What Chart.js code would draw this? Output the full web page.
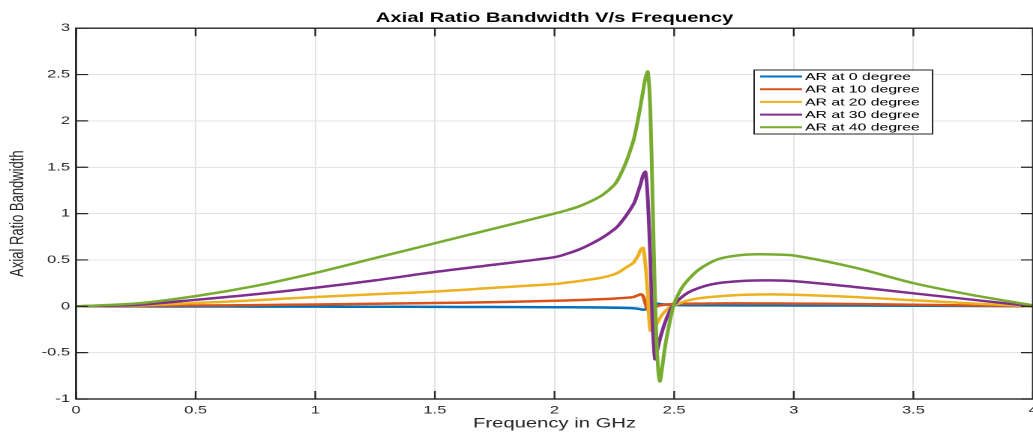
<!DOCTYPE html>
<html><head><meta charset="utf-8">
<script src="https://cdn.jsdelivr.net/npm/chart.js@4"></script>
<style>html,body{margin:0;padding:0;background:#fff;overflow:hidden}
#c{display:block}</style></head>
<body><canvas id="c" width="689" height="432" style="width:1033px;height:432px"></canvas>
<script>
// ---- data ----
const freq = [0, 0.25, 0.5, 0.75, 1.0, 1.25, 1.5, 1.75, 2.0, 2.05, 2.1, 2.15, 2.2, 2.25, 2.27, 2.3,
  2.33, 2.34, 2.35, 2.36, 2.37, 2.38, 2.39, 2.40, 2.41, 2.42, 2.43, 2.44, 2.45, 2.46, 2.47, 2.48, 2.49, 2.50,
  2.53, 2.56, 2.6, 2.65, 2.7, 2.8, 2.9, 3.0, 3.25, 3.5, 3.75, 4.0];

const ar0 = [0, -0.001, -0.002, -0.003, -0.004, -0.005, -0.006, -0.008, -0.01, -0.0105, -0.011, -0.012, -0.013, -0.015, -0.016, -0.018,
  -0.021, -0.024, -0.027, -0.032, -0.037, -0.03, 0.005, 0.03, 0.035, 0.032, 0.028, 0.025, 0.022, 0.02, 0.018, 0.016, 0.015, 0.014,
  0.013, 0.012, 0.012, 0.011, 0.011, 0.01, 0.01, 0.009, 0.008, 0.006, 0.003, 0.0];

const ar10 = [0, 0.003, 0.008, 0.013, 0.02, 0.028, 0.036, 0.045, 0.06, 0.063, 0.067, 0.072, 0.077, 0.083, 0.087, 0.092,
  0.10, 0.11, 0.12, 0.13, 0.11, 0.03, -0.04, -0.05, -0.03, -0.01, 0.0, 0.01, 0.015, 0.018, 0.02, 0.022, 0.024, 0.025,
  0.027, 0.028, 0.029, 0.03, 0.031, 0.031, 0.03, 0.029, 0.025, 0.017, 0.009, 0.0];

const ar20 = [0, 0.01, 0.035, 0.065, 0.10, 0.13, 0.16, 0.20, 0.24, 0.255, 0.27, 0.29, 0.31, 0.345, 0.37, 0.42,
  0.47, 0.51, 0.55, 0.61, 0.63, 0.45, 0.12, -0.26, -0.26, -0.22, -0.18, -0.13, -0.09, -0.06, -0.035, -0.015, 0.0, 0.01,
  0.04, 0.065, 0.085, 0.10, 0.11, 0.124, 0.128, 0.124, 0.10, 0.065, 0.03, 0.0];

const ar30 = [0, 0.015, 0.07, 0.13, 0.20, 0.28, 0.37, 0.45, 0.53, 0.565, 0.61, 0.67, 0.74, 0.83, 0.88, 0.98,
  1.10, 1.16, 1.24, 1.32, 1.41, 1.45, 1.15, 0.55, -0.18, -0.57, -0.47, -0.36, -0.27, -0.19, -0.12, -0.06, -0.01, 0.02,
  0.095, 0.15, 0.195, 0.233, 0.255, 0.276, 0.28, 0.272, 0.21, 0.14, 0.07, 0.0];

const ar40 = [0, 0.03, 0.11, 0.22, 0.36, 0.52, 0.68, 0.84, 1.00, 1.035, 1.075, 1.13, 1.20, 1.31, 1.39, 1.56,
  1.79, 1.90, 2.03, 2.17, 2.32, 2.46, 2.53, 2.15, 1.15, 0.10, -0.55, -0.81, -0.66, -0.47, -0.32, -0.19, -0.07, 0.03,
  0.19, 0.29, 0.39, 0.47, 0.52, 0.557, 0.56, 0.548, 0.42, 0.25, 0.12, 0.01];

const seriesLabels = ['AR at 0 degree', 'AR at 10 degree', 'AR at 20 degree', 'AR at 30 degree', 'AR at 40 degree'];
const seriesColors = ['#0072BD', '#D95319', '#EDB120', '#7E2F8E', '#77AC30'];
const xTicks = [0, 0.5, 1, 1.5, 2, 2.5, 3, 3.5, 4];
const yTicks = [-1, -0.5, 0, 0.5, 1, 1.5, 2, 2.5, 3];

// ---- chart ----
const FONT = '"Liberation Sans", Arial, Helvetica, sans-serif';
const TL = 8;

const frame = {
  id: 'frame',
  afterDatasetsDraw(chart) {
    const {ctx, chartArea: {left, right, top, bottom}, scales: {x, y}} = chart;
    ctx.save();
    ctx.strokeStyle = '#262626';
    ctx.lineWidth = 1.2;
    ctx.beginPath();
    xTicks.forEach(v => {
      const px = x.getPixelForValue(v);
      ctx.moveTo(px, bottom); ctx.lineTo(px, bottom - TL);
      ctx.moveTo(px, top); ctx.lineTo(px, top + TL);
    });
    yTicks.forEach(v => {
      const py = y.getPixelForValue(v);
      ctx.moveTo(left, py); ctx.lineTo(left + TL, py);
      ctx.moveTo(right, py); ctx.lineTo(right - TL, py);
    });
    ctx.stroke();
    ctx.lineWidth = 1.4;
    ctx.strokeRect(left, top, right - left, bottom - top);
    ctx.restore();
  }
};

const legendBox = {
  id: 'legendBox',
  afterDraw(chart) {
    const ctx = chart.ctx;
    const bx = 503, by = 70, bw = 119, bh = 64, rowH = 12.7;
    ctx.save();
    ctx.fillStyle = '#fff';
    ctx.fillRect(bx, by, bw, bh);
    ctx.strokeStyle = '#262626';
    ctx.lineWidth = 1;
    ctx.strokeRect(bx, by, bw, bh);
    ctx.font = '10.5px ' + FONT;
    ctx.textBaseline = 'middle';
    ctx.textAlign = 'left';
    chart.data.datasets.forEach((d, i) => {
      const cy = by + 6.5 + i * rowH;
      ctx.strokeStyle = d.borderColor;
      ctx.lineWidth = 2;
      ctx.beginPath();
      ctx.moveTo(bx + 4, cy); ctx.lineTo(bx + 32, cy);
      ctx.stroke();
      ctx.fillStyle = '#000';
      ctx.fillText(d.label, bx + 34, cy + 0.5);
    });
    ctx.restore();
  }
};

const series = [ar0, ar10, ar20, ar30, ar40];
const datasets = series.map((arr, i) => ({
  label: seriesLabels[i],
  data: freq.map((f, j) => ({x: f, y: arr[j]})),
  borderColor: seriesColors[i],
  backgroundColor: seriesColors[i],
  borderWidth: 2.5,
  pointRadius: 0,
  tension: 0.3,
  fill: false,
  order: series.length - 1 - i
}));

const fmt = v => String(v);

new Chart(document.getElementById('c'), {
  type: 'line',
  data: {datasets},
  plugins: [frame, legendBox],
  options: {
    responsive: false,
    animation: false,
    devicePixelRatio: 2,
    layout: {padding: 0},
    plugins: {
      legend: {display: false},
      tooltip: {enabled: false},
      title: {
        display: true,
        text: 'Axial Ratio Bandwidth V/s Frequency',
        fullSize: false,
        color: '#000',
        font: {family: FONT, size: 13.5, weight: 'bold'},
        padding: {top: 10, bottom: 2}
      }
    },
    scales: {
      x: {
        type: 'linear', min: 0, max: 4,
        afterBuildTicks: s => { s.ticks = xTicks.map(v => ({value: v})); },
        afterFit: s => { s.height = 33; s.paddingLeft = 0; s.paddingRight = 0; },
        ticks: {color: '#262626', font: {family: FONT, size: 11}, padding: 5, maxRotation: 0, autoSkip: false, callback: fmt},
        grid: {color: '#e3e3e3', lineWidth: 1, drawTicks: false},
        border: {display: false},
        title: {display: true, text: 'Frequency in GHz', color: '#262626',
                font: {family: FONT, size: 13.5}, padding: {top: 0, bottom: 0}}
      },
      y: {
        type: 'linear', min: -1, max: 3,
        afterBuildTicks: s => { s.ticks = yTicks.map(v => ({value: v})); },
        afterFit: s => { s.width = 50.7; s.paddingTop = 0; s.paddingBottom = 0; },
        ticks: {color: '#262626', font: {family: FONT, size: 11}, padding: 4, callback: fmt},
        grid: {color: '#e3e3e3', lineWidth: 1, drawTicks: false},
        border: {display: false},
        title: {display: true, text: 'Axial Ratio Bandwidth', color: '#262626',
                font: {family: FONT, size: 13}, padding: {top: 4, bottom: 0}}
      }
    }
  }
});
</script>
</body></html>
